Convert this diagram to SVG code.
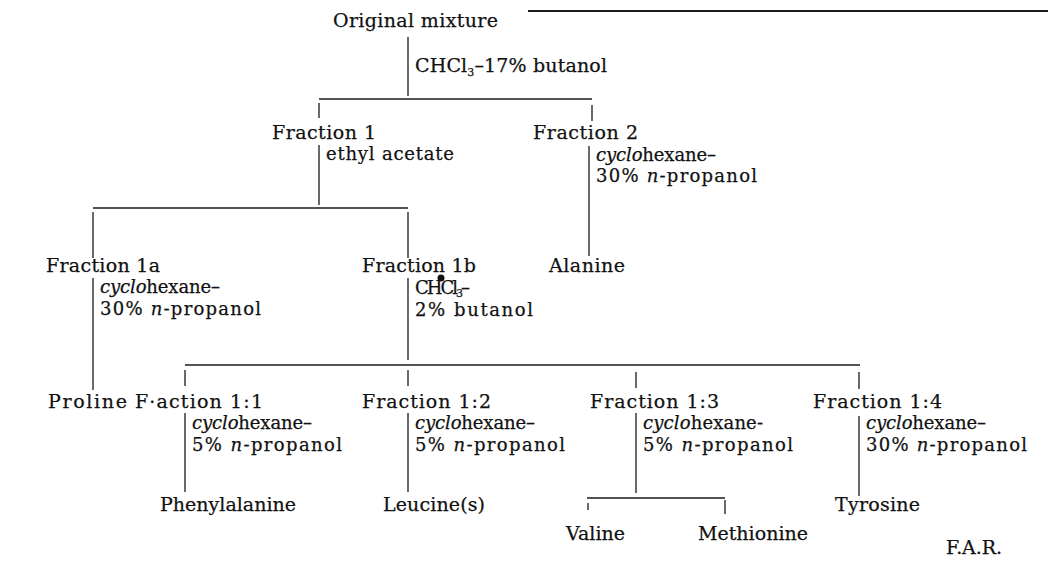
<svg xmlns="http://www.w3.org/2000/svg" width="1053" height="568" viewBox="0 0 1053 568">
<style>
text{font-family:"DejaVu Serif","Liberation Serif",serif;font-size:19px;fill:#111;stroke:#111;stroke-width:0.25}
text.sub{font-size:18px}
.i{font-style:italic}
.s{font-size:11px}
#connectors line{stroke:#1a1a1a;stroke-width:1.3;fill:none}
#connectors line.h{stroke-width:1.6}
</style>
<rect width="1053" height="568" fill="#fff"/>
<g id="connectors">
<line class="h" x1="528" y1="11" x2="1048" y2="11" style="stroke-width:2"/>
<line x1="408" y1="37" x2="408" y2="96"/>
<line class="h" x1="319" y1="99" x2="592" y2="99"/>
<line x1="319" y1="103" x2="319" y2="118"/>
<line x1="592" y1="105" x2="592" y2="121"/>
<line x1="319" y1="145" x2="319" y2="205"/>
<line class="h" x1="93" y1="208" x2="408" y2="208"/>
<line x1="93" y1="212" x2="93" y2="258"/>
<line x1="408" y1="212" x2="408" y2="258"/>
<line x1="589" y1="146" x2="589" y2="256"/>
<line x1="93" y1="278" x2="93" y2="390"/>
<line x1="408" y1="278" x2="408" y2="360"/>
<line class="h" x1="185" y1="365" x2="860" y2="365"/>
<line x1="185" y1="370" x2="185" y2="386"/>
<line x1="408" y1="370" x2="408" y2="386"/>
<line x1="636" y1="372" x2="636" y2="388"/>
<line x1="859" y1="372" x2="859" y2="389"/>
<line x1="185" y1="413" x2="185" y2="492"/>
<line x1="408" y1="413" x2="408" y2="492"/>
<line x1="636" y1="413" x2="636" y2="493"/>
<line x1="859" y1="416" x2="859" y2="496"/>
<line class="h" x1="587" y1="498" x2="725" y2="498"/>
<line x1="588" y1="503" x2="588" y2="510"/>
<line x1="725" y1="500" x2="725" y2="514"/>
</g>
<g id="original"><text x="333" y="27" textLength="165" lengthAdjust="spacing">Original mixture</text></g>
<g id="solvent1"><text x="415" y="72" textLength="192" lengthAdjust="spacing">CHCl<tspan class="s" dy="4">3</tspan><tspan dy="-4">–17%  butanol</tspan></text></g>
<g id="fraction1">
<text x="272" y="139" textLength="104" lengthAdjust="spacing">Fraction 1</text>
<text class="sub" x="326" y="160" textLength="128" lengthAdjust="spacing">ethyl  acetate</text>
</g>
<g id="fraction2">
<text x="533" y="139" textLength="105" lengthAdjust="spacing">Fraction 2</text>
<text class="sub" x="596" y="161" textLength="120" lengthAdjust="spacing"><tspan class="i">cyclo</tspan>hexane–</text>
<text class="sub" x="596" y="182" textLength="161" lengthAdjust="spacing">30%  <tspan class="i">n</tspan>-propanol</text>
</g>
<g id="alanine"><text x="549" y="272" textLength="76" lengthAdjust="spacing">Alanine</text></g>
<g id="fraction1a">
<text x="46" y="272" textLength="114" lengthAdjust="spacing">Fraction 1a</text>
<text class="sub" x="100" y="293" textLength="120" lengthAdjust="spacing"><tspan class="i">cyclo</tspan>hexane–</text>
<text class="sub" x="100" y="315" textLength="161" lengthAdjust="spacing">30%  <tspan class="i">n</tspan>-propanol</text>
</g>
<g id="fraction1b">
<text x="362" y="272" textLength="114" lengthAdjust="spacing">Fraction 1b</text>
<circle cx="441" cy="278" r="3.5" fill="#111"/>
<text class="sub" x="415" y="294" textLength="55" lengthAdjust="spacing">CHCl<tspan class="s" dy="3">3</tspan><tspan dy="-3">–</tspan></text>
<text class="sub" x="415" y="316" textLength="118" lengthAdjust="spacing">2%  butanol</text>
</g>
<g id="proline"><text x="48" y="408" textLength="79" lengthAdjust="spacing">Proline</text></g>
<g id="fraction1-1">
<text x="135" y="408" textLength="128" lengthAdjust="spacing">F·action 1:1</text>
<text class="sub" x="192" y="429" textLength="120" lengthAdjust="spacing"><tspan class="i">cyclo</tspan>hexane–</text>
<text class="sub" x="192" y="451" textLength="150" lengthAdjust="spacing">5%  <tspan class="i">n</tspan>-propanol</text>
</g>
<g id="fraction1-2">
<text x="362" y="408" textLength="129" lengthAdjust="spacing">Fraction 1:2</text>
<text class="sub" x="415" y="429" textLength="120" lengthAdjust="spacing"><tspan class="i">cyclo</tspan>hexane–</text>
<text class="sub" x="415" y="451" textLength="150" lengthAdjust="spacing">5%  <tspan class="i">n</tspan>-propanol</text>
</g>
<g id="fraction1-3">
<text x="590" y="408" textLength="129" lengthAdjust="spacing">Fraction 1:3</text>
<text class="sub" x="643" y="429" textLength="120" lengthAdjust="spacing"><tspan class="i">cyclo</tspan>hexane-</text>
<text class="sub" x="643" y="451" textLength="150" lengthAdjust="spacing">5%  <tspan class="i">n</tspan>-propanol</text>
</g>
<g id="fraction1-4">
<text x="813" y="408" textLength="129" lengthAdjust="spacing">Fraction 1:4</text>
<text class="sub" x="866" y="429" textLength="120" lengthAdjust="spacing"><tspan class="i">cyclo</tspan>hexane–</text>
<text class="sub" x="866" y="451" textLength="161" lengthAdjust="spacing">30%  <tspan class="i">n</tspan>-propanol</text>
</g>
<g id="phenylalanine"><text x="160" y="511" textLength="136" lengthAdjust="spacing">Phenylalanine</text></g>
<g id="leucine"><text x="383" y="511" textLength="102" lengthAdjust="spacing">Leucine(s)</text></g>
<g id="tyrosine"><text x="835" y="511" textLength="85" lengthAdjust="spacing">Tyrosine</text></g>
<g id="valine"><text x="566" y="540" textLength="59" lengthAdjust="spacing">Valine</text></g>
<g id="methionine"><text x="698" y="540" textLength="110" lengthAdjust="spacing">Methionine</text></g>
<g id="far"><text x="946" y="554" textLength="56" lengthAdjust="spacing">F.A.R.</text></g>
</svg>
